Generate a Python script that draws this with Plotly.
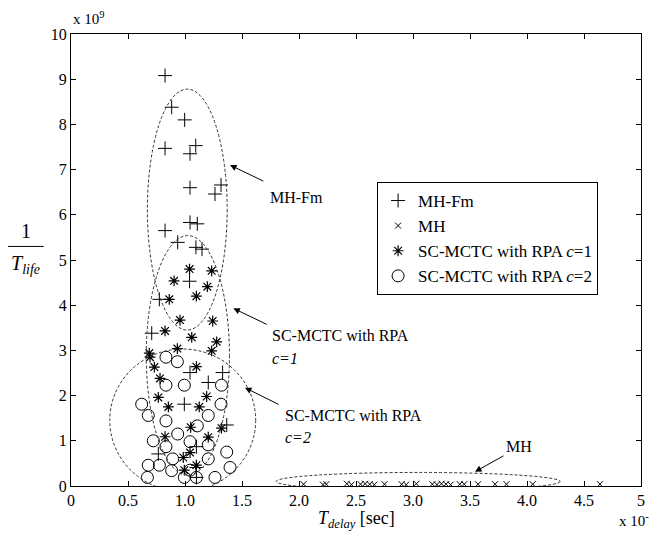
import plotly.graph_objects as go

# ---------------- data (x in units of 1e-2 sec, y in units of 1e9) ----------------
mhfm_x = [0.825, 0.883, 0.997, 0.825, 1.094, 1.044, 1.044, 1.316, 1.263, 1.044, 1.108, 0.825,
          0.936, 1.096, 1.149, 1.04, 0.775, 0.708, 1.044, 1.33, 1.204, 0.994, 1.366, 1.10,
          0.766, 1.10, 1.10]
mhfm_y = [9.08, 8.38, 8.10, 7.47, 7.53, 7.35, 6.60, 6.66, 6.46, 5.83, 5.80, 5.65,
          5.39, 5.28, 5.24, 4.53, 4.13, 3.38, 2.51, 2.51, 2.29, 1.81, 1.35, 0.87,
          0.71, 0.41, 0.19]

mh_x = [2.04, 2.21, 2.24, 2.42, 2.46, 2.54, 2.58, 2.62, 2.66, 2.75, 2.90, 2.94, 3.03,
        3.17, 3.21, 3.25, 3.29, 3.33, 3.41, 3.45, 3.57, 3.72, 3.82, 4.05, 4.64]
mh_y = [0.04, 0.03, 0.04, 0.05, 0.03, 0.04, 0.05, 0.04, 0.03, 0.04, 0.04, 0.03, 0.05,
        0.04, 0.03, 0.05, 0.04, 0.03, 0.04, 0.04, 0.04, 0.04, 0.04, 0.04, 0.04]

sc1_x = [1.04, 1.234, 0.904, 1.196, 0.862, 1.10, 0.956, 1.243, 0.825, 1.059, 1.278, 0.933,
         1.234, 0.687, 0.693, 0.731, 1.10, 0.781, 0.766, 1.19, 0.854, 1.125, 1.05, 1.32,
         0.825, 1.204, 1.044, 0.985, 1.10, 0.994]
sc1_y = [4.80, 4.76, 4.54, 4.41, 4.13, 4.20, 3.67, 3.65, 3.43, 3.29, 3.19, 3.04,
         2.99, 2.94, 2.85, 2.63, 2.64, 2.38, 1.96, 1.98, 1.75, 1.75, 1.30, 1.28,
         1.09, 1.08, 0.74, 0.63, 0.46, 0.35]

sc2_x = [0.833, 0.933, 0.833, 0.994, 1.32, 0.62, 1.316, 0.678, 0.833, 1.204, 1.108, 0.936,
         0.722, 1.044, 0.833, 1.204, 1.366, 0.892, 1.204, 0.678, 0.775, 1.395, 0.883, 1.044,
         0.67, 0.994, 1.10, 1.263]
sc2_y = [2.85, 2.75, 2.23, 2.23, 2.23, 1.81, 1.81, 1.56, 1.44, 1.56, 1.33, 1.15,
         1.00, 0.98, 0.87, 0.91, 0.75, 0.60, 0.60, 0.46, 0.46, 0.41, 0.34, 0.35,
         0.19, 0.19, 0.19, 0.19]

series_names = ["MH-Fm", "MH", "SC-MCTC with RPA <i>c</i>=1", "SC-MCTC with RPA <i>c</i>=2"]

x_tickvals = [0, 0.5, 1, 1.5, 2, 2.5, 3, 3.5, 4, 4.5, 5]
x_ticktext = ["0", "0.5", "1.0", "1.5", "2.0", "2.5", "3.0", "3.5", "4.0", "4.5", "5"]
y_tickvals = [0, 1, 2, 3, 4, 5, 6, 7, 8, 9, 10]

# grouping ellipses: [x0, x1, y0, y1]
ell_mhfm = [0.67, 1.37, 3.45, 8.78]
ell_sc1 = [0.66, 1.39, 0.24, 5.54]
ell_sc2 = [0.34, 1.62, -0.12, 3.03]
ell_mh = [1.80, 4.29, -0.10, 0.30]

FONT = "Liberation Serif, Times New Roman, serif"

fig = go.Figure()
fig.add_trace(go.Scatter(x=mhfm_x, y=mhfm_y, mode="markers", name=series_names[0],
                         marker=dict(symbol="cross-thin-open", size=10, color="black",
                                     line=dict(width=1, color="black"))))
fig.add_trace(go.Scatter(x=mh_x, y=mh_y, mode="markers", name=series_names[1],
                         marker=dict(symbol="x-thin-open", size=6, color="black",
                                     line=dict(width=1, color="black"))))
fig.add_trace(go.Scatter(x=sc1_x, y=sc1_y, mode="markers", name=series_names[2],
                         marker=dict(symbol="asterisk-open", size=9, color="black",
                                     line=dict(width=1.2, color="black"))))
fig.add_trace(go.Scatter(x=sc2_x, y=sc2_y, mode="markers", name=series_names[3],
                         marker=dict(symbol="circle-open", size=12, color="black",
                                     line=dict(width=1, color="black"))))

for e in (ell_mhfm, ell_sc1, ell_sc2, ell_mh):
    fig.add_shape(type="circle", xref="x", yref="y", x0=e[0], x1=e[1], y0=e[2], y1=e[3],
                  line=dict(color="#333333", width=1, dash="3px,2px"))

arrows = [
    # head (x,y), tail (x,y)
    ((1.395, 7.10), (1.70, 6.73)),
    ((1.424, 3.93), (1.73, 3.56)),
    ((1.526, 2.175), (1.833, 1.79)),
    ((3.544, 0.316), (3.807, 0.686)),
]
for (hx, hy), (tx, ty) in arrows:
    fig.add_annotation(x=hx, y=hy, ax=tx, ay=ty, xref="x", yref="y", axref="x", ayref="y",
                       text="", showarrow=True, arrowhead=2, arrowsize=1.3, arrowwidth=1,
                       arrowcolor="black")

labels = [
    (1.73, 6.38, "MH-Fm"),
    (1.745, 3.34, "SC-MCTC with RPA"),
    (1.745, 2.83, "<i>c=1</i>"),
    (1.86, 1.57, "SC-MCTC with RPA"),
    (1.86, 1.08, "<i>c=2</i>"),
]
for lx, ly, t in labels:
    fig.add_annotation(x=lx, y=ly, xref="x", yref="y", text=t, showarrow=False,
                       xanchor="left", yanchor="middle",
                       font=dict(family=FONT, size=16, color="black"))
fig.add_annotation(x=3.93, y=0.87, xref="x", yref="y", text="MH", showarrow=False,
                   xanchor="center", yanchor="middle",
                   font=dict(family=FONT, size=16, color="black"))

# axis exponents
fig.add_annotation(x=0.0, y=1.035, xref="paper", yref="paper", text="x 10<sup>9</sup>",
                   showarrow=False, xanchor="left", yanchor="middle",
                   font=dict(family=FONT, size=15, color="black"))
fig.add_annotation(x=0.958, y=-0.075, xref="paper", yref="paper", text="x 10<sup>-2</sup>",
                   showarrow=False, xanchor="left", yanchor="middle",
                   font=dict(family=FONT, size=15, color="black"))

# x-axis title
fig.add_annotation(x=0.5, y=-0.075, xref="paper", yref="paper",
                   text="<i>T</i><sub><i>delay</i></sub> [sec]", showarrow=False,
                   xanchor="center", yanchor="middle",
                   font=dict(family=FONT, size=18, color="black"))

# y-axis title as a fraction 1 / T_life
fig.add_annotation(x=-0.079, y=0.565, xref="paper", yref="paper", text="1",
                   showarrow=False, xanchor="center", yanchor="middle",
                   font=dict(family=FONT, size=20, color="black"))
fig.add_annotation(x=-0.079, y=0.49, xref="paper", yref="paper",
                   text="<i>T</i><sub><i>life</i></sub>", showarrow=False,
                   xanchor="center", yanchor="middle",
                   font=dict(family=FONT, size=20, color="black"))
fig.add_shape(type="line", xref="paper", yref="paper", x0=-0.111, x1=-0.048,
              y0=0.53, y1=0.53, line=dict(color="black", width=1))

# page body has an 8px margin; figure is sized so the plot area lands at x 71..641, y 34..486
fig.update_layout(
    width=649, height=528,
    margin=dict(l=63, r=16, t=26, b=50),
    paper_bgcolor="white", plot_bgcolor="white",
    font=dict(family=FONT, size=16, color="black"),
    showlegend=True,
    legend=dict(x=0.537, y=0.6726, xanchor="left", yanchor="top",
                bgcolor="white", bordercolor="black", borderwidth=1,
                font=dict(family=FONT, size=17, color="black"),
                itemwidth=30, tracegroupgap=0),
    xaxis=dict(range=[0, 5], tickvals=x_tickvals, ticktext=x_ticktext,
               ticks="inside", ticklen=5, tickcolor="black",
               showline=True, linecolor="black", linewidth=1, mirror="ticks",
               showgrid=False, zeroline=False,
               tickfont=dict(family=FONT, size=16, color="black")),
    yaxis=dict(range=[0, 10], tickvals=y_tickvals,
               ticks="inside", ticklen=5, tickcolor="black",
               showline=True, linecolor="black", linewidth=1, mirror="ticks",
               showgrid=False, zeroline=False,
               tickfont=dict(family=FONT, size=16, color="black")),
)

fig.write_html("out.html")
